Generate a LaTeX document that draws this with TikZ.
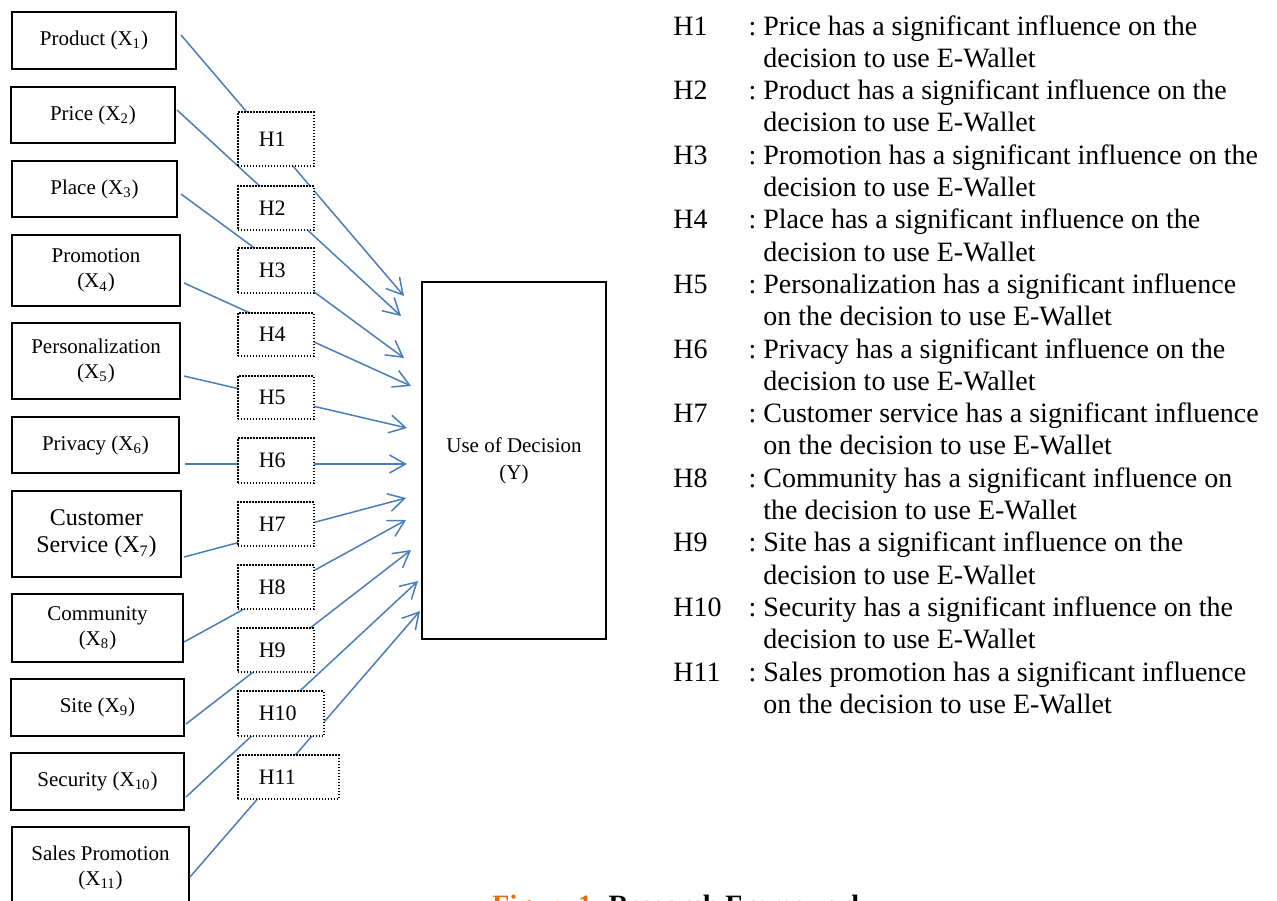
\documentclass[tikz,border=0pt]{standalone}
\usepackage{fontspec}
\setmainfont{Liberation Serif}
\usetikzlibrary{arrows.meta,calc}
\definecolor{linkblue}{RGB}{74,126,187}
\definecolor{figorange}{RGB}{228,108,10}
\tikzset{
  var/.style={draw, line width=1pt, align=center, inner sep=0pt, font=\fontsize{10.5}{12.5}\selectfont},
  hyp/.style={draw, line width=0.75pt, dash pattern=on 0.75pt off 0.75pt, fill=white, anchor=west, inner xsep=10.5pt, inner ysep=0pt, align=left, font=\fontsize{11}{13}\selectfont},
  link/.style={linkblue, line width=0.75pt, -{Straight Barb[length=8pt,width=9pt]}},
  legend/.style={anchor=base west, inner sep=0pt, font=\fontsize{14}{16}\selectfont}
}

\begin{document}
\begin{tikzpicture}[x=0.5pt,y=-0.5pt]
\useasboundingbox (0,0) rectangle (1277,900);
% variables X1 ... X11
\node[var, minimum width=82pt, minimum height=28.5pt] (x1) at (94,40.5) {Product (X\textsubscript{1})};
\node[var, minimum width=82pt, minimum height=28pt] (x2) at (93,115) {Price (X\textsubscript{2})};
\node[var, minimum width=82.5pt, minimum height=28pt] (x3) at (94.5,189) {Place (X\textsubscript{3})};
\node[var, minimum width=84pt, minimum height=35.5pt] (x4) at (96,270.5) {Promotion\\(X\textsubscript{4})};
\node[var, minimum width=84pt, minimum height=38pt] (x5) at (96,361) {Personalization\\(X\textsubscript{5})};
\node[var, minimum width=83.5pt, minimum height=28pt] (x6) at (95.5,445) {Privacy (X\textsubscript{6})};
\node[var, minimum width=84.5pt, minimum height=43pt, font=\fontsize{12}{13.5}\selectfont] (x7) at (96.5,534) {Customer\\Service (X\textsubscript{7})};
\node[var, minimum width=85.5pt, minimum height=34pt] (x8) at (97.5,628) {Community\\(X\textsubscript{8})};
\node[var, minimum width=86.5pt, minimum height=28.5pt] (x9) at (97.5,707.5) {Site (X\textsubscript{9})};
\node[var, minimum width=86.5pt, minimum height=28.5pt] (x10) at (97.5,781.5) {Security (X\textsubscript{10})};
\node[var, minimum width=88.5pt, minimum height=40.5pt] (x11) at (100.5,867.5) {Sales Promotion\\(X\textsubscript{11})};
% dependent variable
\node[var, minimum width=92pt, minimum height=178.5pt, font=\fontsize{10.5}{13.5}\selectfont] (y) at (514,460.5) {Use of Decision\\(Y)};
% paths
\foreach \i/\sx/\sy/\ex/\ey in {1/4/-5.5/-17/15, 2/1/-5/-20/35, 3/3/5/-17/77, 4/3/12.5/-10/105,
  5/3/15/-14/147, 6/5/19/-14/183, 7/2/23/-15/217, 8/0/14/-15/239, 9/1/16.5/-10/269,
  10/1/15.5/-3/300, 11/0/9.5/-1/330}
  \draw[link] ($(x\i.east)+(\sx,\sy)$) -- ($(y.north west)+(\ex,\ey)$);
% hypothesis labels
\foreach \i/\cy/\h/\w in {1/139/27/17, 2/208/22/17, 3/270.5/22.5/17, 4/334.5/21.5/17, 5/397.5/21.5/17,
  6/460.5/22.5/17, 7/524/22/17, 8/587/22/17, 9/650/22/17, 10/713.5/22.5/22, 11/777/22/29.5}
  \node[hyp, minimum height=\h pt, text width=\w pt] (h\i) at (237,\cy) {H\i};
% legend
\foreach \i/\a/\b in {1/Price has a significant influence on the/decision to use E-Wallet,
  2/Product has a significant influence on the/decision to use E-Wallet,
  3/Promotion has a significant influence on the/decision to use E-Wallet,
  4/Place has a significant influence on the/decision to use E-Wallet,
  5/Personalization has a significant influence/on the decision to use E-Wallet,
  6/Privacy has a significant influence on the/decision to use E-Wallet,
  7/Customer service has a significant influence/on the decision to use E-Wallet,
  8/Community has a significant influence on/the decision to use E-Wallet,
  9/Site has a significant influence on the/decision to use E-Wallet,
  10/Security has a significant influence on the/decision to use E-Wallet,
  11/Sales promotion has a significant influence/on the decision to use E-Wallet}{
  \node[legend] (l\i) at (673,{35+(\i-1)*64.6}) {H\i};
  \node[legend] (p\i) at (763,{35+(\i-1)*64.6}) {\llap{:\ }\a};
  \node[legend] (q\i) at (763,{67.3+(\i-1)*64.6}) {\b};
}
\node[legend, font=\fontsize{14}{16}\selectfont\bfseries] (cap) at (492,914) {\textcolor{figorange}{Figure 1.} Research Framework};
\end{tikzpicture}
\end{document}
